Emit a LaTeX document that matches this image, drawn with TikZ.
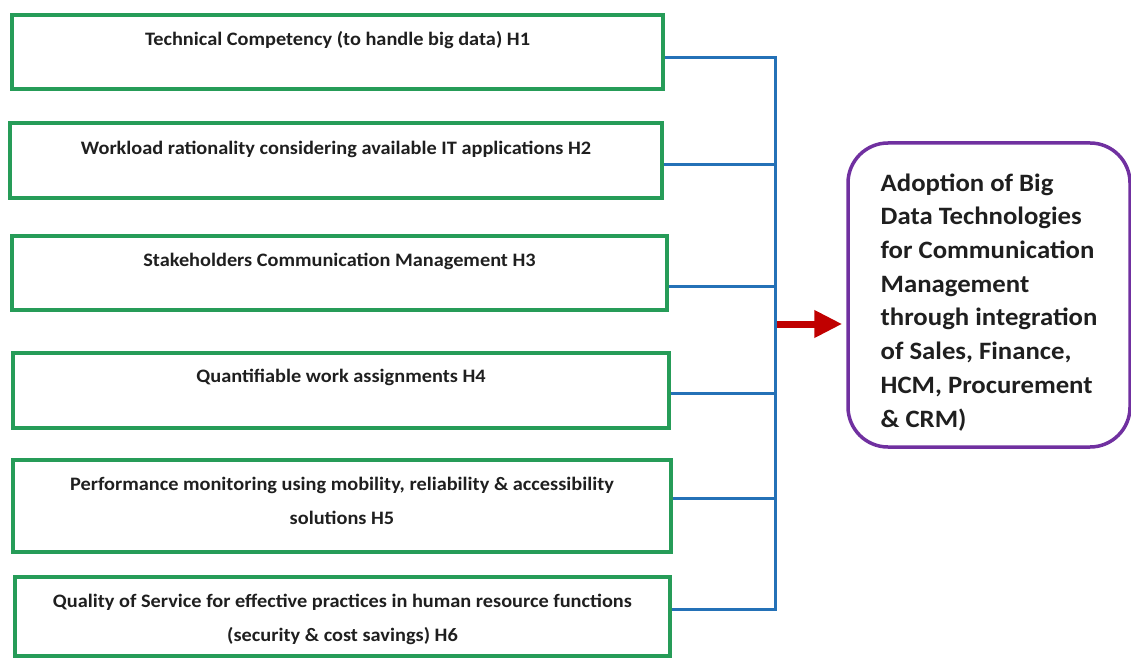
\documentclass[tikz,border=0pt]{standalone}
\usepackage{fontspec}
\setmainfont[FakeStretch=1.07]{Carlito}
\usetikzlibrary{arrows.meta}
\definecolor{boxgreen}{RGB}{38,156,88}
\definecolor{busblue}{RGB}{36,113,183}
\definecolor{outpurple}{RGB}{112,48,160}
\definecolor{arrowred}{RGB}{192,0,0}
\tikzset{
  hbox/.style={draw=boxgreen, line width=3.5pt, rectangle, inner sep=0pt},
  htext/.style={font=\fontsize{19}{34}\selectfont\bfseries, align=center, anchor=center, text=black!88, inner sep=0pt},
  outbox/.style={draw=outpurple, line width=3.5pt, rounded corners=40pt, rectangle, inner sep=0pt,
    font=\fontsize{25}{33.7}\selectfont\bfseries, align=left, text=black!88},
  bus/.style={draw=busblue, line width=3pt},
  bigarrow/.style={draw=arrowred, line width=7pt, -{Triangle[length=28pt,width=26pt]}}
}
\begin{document}
\begin{tikzpicture}[x=1pt,y=-1pt]
\useasboundingbox (0,0) rectangle (1131,660);

% hypothesis boxes
\node[hbox, minimum width=651, minimum height=74,
  label={[htext, yshift=-27pt]north:Technical Competency (to handle big data) H1}]
  (h1) at (337.5,52) {};
\node[hbox, minimum width=652, minimum height=75,
  label={[htext, yshift=-28pt]north:Workload rationality considering available IT applications H2}]
  (h2) at (336,160.5) {};
\node[hbox, minimum width=655, minimum height=74,
  label={[htext, yshift=-27pt]north:Stakeholders Communication Management H3}]
  (h3) at (339.5,273) {};
\node[hbox, minimum width=656, minimum height=75,
  label={[htext, yshift=-26pt]north:Quantifiable work assignments H4}]
  (h4) at (341,390.5) {};
\node[hbox, minimum width=658, minimum height=92,
  label={[htext, yshift=-43pt]north:Performance monitoring using mobility, reliability \& accessibility\\solutions H5}]
  (h5) at (342,506) {};
\node[hbox, minimum width=655, minimum height=79,
  label={[htext, yshift=-44pt]north:Quality of Service for effective practices in human resource functions\\(security \& cost savings) H6}]
  (h6) at (342.5,616.5) {};

% outcome box (the strut on the first line lowers the text block a little)
\node[outbox, minimum width=282, minimum height=304] (out) at (989,295)
  {\rule{0pt}{32pt}Adoption of Big\\Data Technologies\\for Communication\\Management\\through integration\\of Sales, Finance,\\HCM, Procurement\\\& CRM)};

% points on the collecting bus
\coordinate (b1) at (775,58);
\coordinate (b2) at (775,165);
\coordinate (b3) at (775,286);
\coordinate (b4) at (775,393);
\coordinate (b5) at (775,498);
\coordinate (b6) at (775,609);
\coordinate (arr) at (777,324);

% bus and branches
\draw[bus] (h1.east |- b1) -- (b1) -- (b6) -- (h6.east |- b6);
\draw[bus] (h2.east |- b2) -- (b2);
\draw[bus] (h3.east |- b3) -- (b3);
\draw[bus] (h4.east |- b4) -- (b4);
\draw[bus] (h5.east |- b5) -- (b5);

% arrow into the outcome
\draw[bigarrow] (arr) -- ([xshift=-4pt]out.west |- arr);
\end{tikzpicture}
\end{document}
